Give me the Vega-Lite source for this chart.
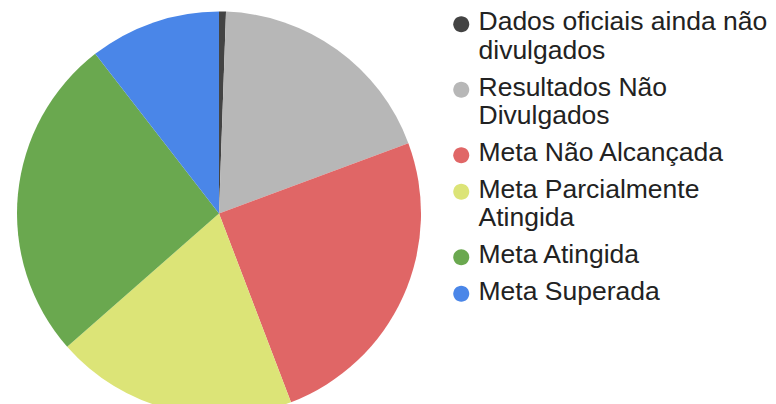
{
  "$schema": "https://vega.github.io/schema/vega-lite/v6.json",
  "width": 438,
  "height": 393,
  "padding": {"left": 0, "top": 11, "right": 0, "bottom": 0},
  "background": "white",
  "data": {
    "values": [
      {"categoria": "Dados oficiais ainda não divulgados", "ordem": 1, "valor": 1},
      {"categoria": "Resultados Não Divulgados", "ordem": 2, "valor": 34},
      {"categoria": "Meta Não Alcançada", "ordem": 3, "valor": 45},
      {"categoria": "Meta Parcialmente Atingida", "ordem": 4, "valor": 35},
      {"categoria": "Meta Atingida", "ordem": 5, "valor": 47},
      {"categoria": "Meta Superada", "ordem": 6, "valor": 19}
    ]
  },
  "mark": {"type": "arc", "outerRadius": 202, "stroke": null},
  "encoding": {
    "theta": {"field": "valor", "type": "quantitative", "stack": true},
    "order": {"field": "ordem", "type": "quantitative", "sort": "ascending"},
    "color": {
      "field": "categoria",
      "type": "nominal",
      "scale": {
        "domain": ["Dados oficiais ainda não divulgados", "Resultados Não Divulgados", "Meta Não Alcançada", "Meta Parcialmente Atingida", "Meta Atingida", "Meta Superada"],
        "range": ["#434343", "#b7b7b7", "#e06666", "#dce477", "#6aa84f", "#4a86e8"]
      },
      "legend": {
        "title": null,
        "orient": "right",
        "offset": 10,
        "padding": 0,
        "symbolType": "M -1,-0.75 A 1,1 0 1,1 1,-0.75 A 1,1 0 1,1 -1,-0.75 Z",
        "symbolSize": 256,
        "symbolStrokeWidth": 0,
        "labelFont": "Liberation Sans",
        "labelFontSize": 26.5,
        "labelColor": "#222222",
        "labelLimit": 400,
        "labelOffset": 4,
        "labelLineHeight": 26,
        "labelBaseline": "alphabetic",
        "rowPadding": 9.5,
        "encode": {"labels": {"update": {"dy": {"value": 15}}}},
        "labelExpr": "datum.label == 'Dados oficiais ainda não divulgados' ? ['Dados oficiais ainda não', 'divulgados'] : datum.label == 'Resultados Não Divulgados' ? ['Resultados Não', 'Divulgados'] : datum.label == 'Meta Parcialmente Atingida' ? ['Meta Parcialmente', 'Atingida'] : datum.label"
      }
    }
  },
  "config": {"view": {"stroke": null}}
}
